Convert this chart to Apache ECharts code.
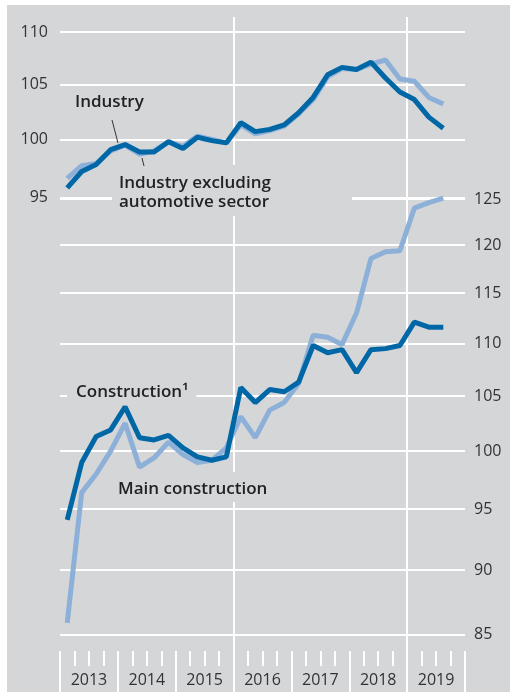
<!DOCTYPE html>
<html>
<head>
<meta charset="utf-8">
<script src="https://cdn.jsdelivr.net/npm/echarts@6/dist/echarts.min.js"></script>
<style>
    body { margin: 0; background: #fff; }
    #chart { position: absolute; left: 7px; top: 5px; width: 503px; height: 687px; }
</style>
</head>
<body>
<div id="chart"></div>
<script>
// quarterly data, 2013 Q1 .. 2019 Q3
var years = ['2013', '2014', '2015', '2016', '2017', '2018', '2019'];
var industry = [95.8, 97.2, 97.8, 99.1, 99.55, 98.9, 98.9, 99.8, 99.2, 100.2, 99.9, 99.7, 101.5, 100.7,
    100.9, 101.3, 102.4, 103.8, 105.9, 106.6, 106.4, 107.1, 105.6, 104.3, 103.6, 102.0, 101.0];
var industryExAuto = [96.6, 97.7, 97.9, 99.0, 99.5, 98.7, 99.0, 99.8, 99.4, 100.3, 100.0, 99.7, 101.3, 100.5,
    100.8, 101.2, 102.3, 103.6, 105.7, 106.5, 106.4, 106.9, 107.3, 105.5, 105.3, 103.8, 103.2];
var construction = [94.1, 99.0, 101.3, 101.9, 104.0, 101.2, 101.0, 101.4, 100.3, 99.5, 99.2, 99.5, 105.8, 104.4,
    105.6, 105.4, 106.3, 109.8, 109.1, 109.4, 107.2, 109.4, 109.5, 109.8, 112.1, 111.6, 111.6];
var mainConstruction = [85.9, 96.4, 98.0, 100.0, 102.5, 98.6, 99.4, 100.8, 99.7, 99.0, 99.2, 100.3, 103.1, 101.2,
    103.7, 104.4, 106.2, 110.8, 110.6, 109.9, 113.0, 118.6, 119.3, 119.4, 124.0, 124.6, 125.1];
var leftTicks = [95, 100, 105, 110];
var rightTicks = [85, 90, 95, 100, 105, 110, 115, 120, 125];

var quarters = [];
for (var i = 0; i < years.length; i++) {
    for (var q = 1; q <= 4; q++) {
        quarters.push(years[i] + ' Q' + q);
    }
}

// both panels are on a log scale
function toLog(arr) {
    return arr.map(function (v) { return v == null ? null : Math.log(v); });
}

var DARK = '#0067a7';
var LIGHT = '#8db0d9';
var BG = '#d5d6d8';
var FONT = '"Open Sans", "Noto Sans", sans-serif';

var chart = echarts.init(document.getElementById('chart'));

var option = {
    animation: false,
    backgroundColor: BG,
    grid: { left: 53, right: 45, top: 12, bottom: 41, outerBoundsMode: 'none' },
    xAxis: [
        {
            type: 'category',
            data: quarters,
            boundaryGap: true,
            position: 'bottom',
            axisLine: { show: false },
            axisTick: { show: true, interval: 0, length: 15, lineStyle: { color: '#fff', width: 2 } },
            axisLabel: { show: false },
            splitLine: { show: false }
        },
        {
            type: 'category',
            data: years,
            boundaryGap: true,
            position: 'bottom',
            axisLine: { show: false },
            axisTick: { show: true, interval: 0, length: 41, lineStyle: { color: '#fff', width: 2 } },
            axisLabel: { show: true, margin: 21, color: '#333', fontSize: 16, fontFamily: FONT },
            splitLine: { show: true, interval: 2, showMinLine: false, showMaxLine: false,
                lineStyle: { color: '#fff', width: 2 } }
        }
    ],
    yAxis: [
        {
            type: 'value',
            position: 'left',
            min: Math.log(63.54),
            max: Math.log(111.47),
            axisLine: { show: false },
            axisTick: { show: false, customValues: toLog(leftTicks) },
            axisLabel: {
                customValues: toLog(leftTicks),
                formatter: function (v) { return Math.round(Math.exp(v)); },
                margin: 12, color: '#333', fontSize: 16, fontFamily: FONT
            },
            splitLine: { show: true, lineStyle: { color: '#fff', width: 2 } }
        },
        {
            type: 'value',
            position: 'right',
            min: Math.log(83.79),
            max: Math.log(146.85),
            axisLine: { show: false },
            axisTick: { show: false, customValues: toLog(rightTicks) },
            axisLabel: {
                customValues: toLog(rightTicks),
                formatter: function (v) { return Math.round(Math.exp(v)); },
                margin: 9, color: '#333', fontSize: 16, fontFamily: FONT
            },
            splitLine: { show: true, lineStyle: { color: '#fff', width: 2 } }
        }
    ],
    series: [
        {
            name: 'Industry excluding automotive sector',
            type: 'line', xAxisIndex: 0, yAxisIndex: 0,
            data: toLog(industryExAuto), showSymbol: false,
            lineStyle: { color: LIGHT, width: 5 }
        },
        {
            name: 'Industry',
            type: 'line', xAxisIndex: 0, yAxisIndex: 0,
            data: toLog(industry), showSymbol: false,
            lineStyle: { color: DARK, width: 5 }
        },
        {
            name: 'Main construction',
            type: 'line', xAxisIndex: 0, yAxisIndex: 1,
            data: toLog(mainConstruction), showSymbol: false,
            lineStyle: { color: LIGHT, width: 5 }
        },
        {
            name: 'Construction',
            type: 'line', xAxisIndex: 0, yAxisIndex: 1,
            data: toLog(construction), showSymbol: false,
            lineStyle: { color: DARK, width: 5 }
        }
    ],
    // annotations (boxes hide the grid lines behind the text)
    graphic: [
        {
            type: 'text', x: 68, y: 87, z: 1,
            style: { text: 'Industry', fill: '#222', font: '600 17px ' + FONT, lineHeight: 20 }
        },
        {
            type: 'line', z: 1,
            shape: { x1: 105, y1: 115, x2: 111, y2: 138 },
            style: { stroke: '#333', lineWidth: 1 }
        },
        {
            type: 'text', x: 105, y: 160, z: 1,
            style: {
                text: 'Industry excluding\nautomotive sector', fill: '#222', font: '600 17px ' + FONT,
                lineHeight: 19, backgroundColor: BG, padding: [9, 81, 4, 7]
            }
        },
        {
            type: 'line', z: 1,
            shape: { x1: 135, y1: 153, x2: 137, y2: 161 },
            style: { stroke: '#333', lineWidth: 1 }
        },
        {
            type: 'text', x: 60, y: 376, z: 1,
            style: {
                text: 'Construction¹', fill: '#222', font: '600 17px ' + FONT,
                lineHeight: 20, backgroundColor: BG, padding: [1, 8, 1, 9]
            }
        },
        {
            type: 'text', x: 105, y: 467, z: 1,
            style: {
                text: 'Main construction', fill: '#222', font: '600 17px ' + FONT,
                lineHeight: 20, backgroundColor: BG, padding: [7, 5, 3, 6]
            }
        }
    ]
};

chart.setOption(option);
</script>
</body>
</html>
